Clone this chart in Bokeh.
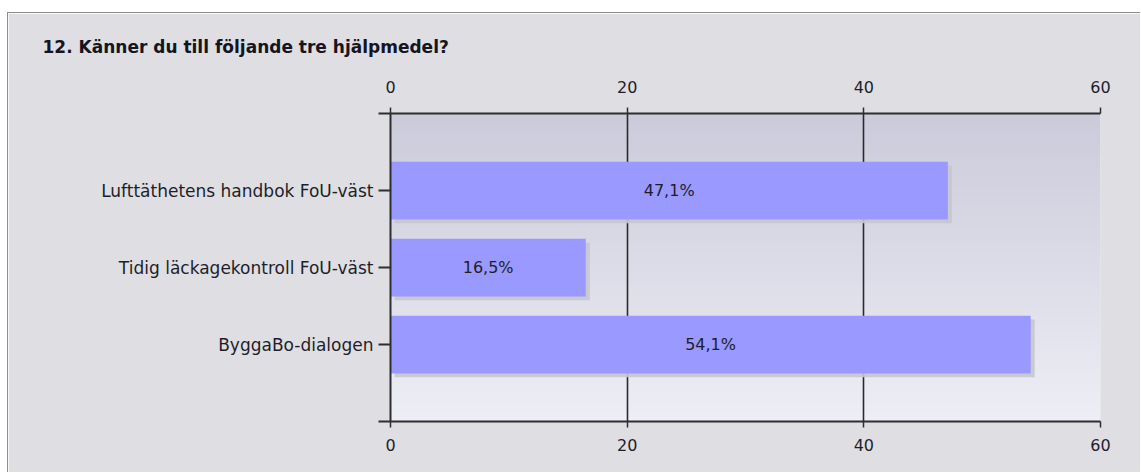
import numpy as np
from bokeh.plotting import figure
from bokeh.models import ColumnDataSource, Range1d, FixedTicker, LinearAxis
from bokeh.transform import dodge
from bokeh.core.properties import value
from bokeh.embed import file_html
from bokeh.resources import INLINE

# ---- data ----
title = "12. Känner du till följande tre hjälpmedel?"
categories = ["Lufttäthetens handbok FoU-väst",
              "Tidig läckagekontroll FoU-väst",
              "ByggaBo-dialogen"]
percent = [47.1, 16.5, 54.1]
x_ticks = [0, 20, 40, 60]

FONT = "DejaVu Sans"
BG = "#DFDEE3"
TXT = "#1E1E2A"

ypos = [i + 1 for i in range(len(categories))]
labels = [f"{v:.1f}".replace(".", ",") + "%" for v in percent]
src = ColumnDataSource(dict(y=ypos, v=percent, mid=[v / 2 for v in percent], lab=labels))

xmax = x_ticks[-1]
ymax = len(categories) + 1

p = figure(width=1133, height=460, output_backend="svg", toolbar_location=None,
           x_range=Range1d(0, xmax), y_range=Range1d(ymax, 0),
           x_axis_location="below", y_axis_location="left",
           min_border_left=382, min_border_right=41, min_border_top=100,
           min_border_bottom=52, title=title)
p.styles = {"border-top": "1px solid #8E8E8E", "border-left": "1px solid #8E8E8E",
            "margin-top": "12px", "margin-left": "7px"}
p.border_fill_color = BG
p.background_fill_color = "#DDDDE8"
p.outline_line_color = None

# title
p.title.text_font = FONT
p.title.text_font_size = "17px"
p.title.text_font_style = "bold"
p.title.text_color = "#15151F"
p.title.align = "left"
p.title.offset = -348
p.title.standoff = 42

# gradient background of the plot area
n = 64
t = np.linspace(0, 1, n)
top = np.array([0xCB, 0xCB, 0xDB]); bot = np.array([0xEE, 0xEE, 0xF6])
cols = (top[None, :] * (1 - t[:, None]) + bot[None, :] * t[:, None]).astype(np.uint32)
img = (255 << 24) | (cols[:, 2] << 16) | (cols[:, 1] << 8) | cols[:, 0]
img = img.reshape(n, 1).astype(np.uint32)
g = p.image_rgba(image=[img], x=0, y=0, dw=xmax, dh=ymax)
g.level = "image"

# grid
p.ygrid.visible = False
p.xgrid.ticker = FixedTicker(ticks=x_ticks)
p.xgrid.grid_line_color = "#2A2A2A"
p.xgrid.grid_line_width = 1.6

# shadows and bars
p.hbar(y=dodge("y", 0.05, range=p.y_range), left=0.34, right=dodge("v", 0.34, range=p.x_range),
       height=0.75, source=src, fill_color="#C6C6CE", line_color=None, fill_alpha=0.9)
p.hbar(y="y", left=0, right="v", height=0.75, source=src,
       fill_color="#9999FF", line_color=None)

p.text(x="mid", y="y", text="lab", source=src, text_font=value(FONT),
       text_font_size="16px", text_color=TXT, text_align="center",
       text_baseline="middle")

# axes
def style_x(ax, standoff):
    ax.ticker = FixedTicker(ticks=x_ticks)
    ax.axis_line_color = "#2E2E2E"
    ax.axis_line_width = 2
    ax.major_tick_line_color = "#2E2E2E"
    ax.major_tick_line_width = 1.5
    ax.major_tick_out = 6
    ax.major_tick_in = 0
    ax.minor_tick_line_color = None
    ax.major_label_standoff = standoff
    ax.major_label_text_font = FONT
    ax.major_label_text_font_size = "16px"
    ax.major_label_text_color = TXT

style_x(p.xaxis[0], 11)
top_ax = LinearAxis()
style_x(top_ax, 15)
p.add_layout(top_ax, "above")

ya = p.yaxis[0]
ya.ticker = FixedTicker(ticks=list(range(0, ymax + 1)))
ya.major_label_overrides = {0: "", ymax: "", **{y: c for y, c in zip(ypos, categories)}}
ya.axis_line_color = "#2E2E2E"
ya.axis_line_width = 2
ya.major_tick_line_color = "#2E2E2E"
ya.major_tick_line_width = 2
ya.major_tick_out = 12
ya.major_tick_in = 0
ya.minor_tick_line_color = None
ya.major_label_standoff = 5
ya.major_label_text_font = FONT
ya.major_label_text_font_size = "17px"
ya.major_label_text_color = TXT

open("out.html", "w").write(file_html(p, INLINE))
